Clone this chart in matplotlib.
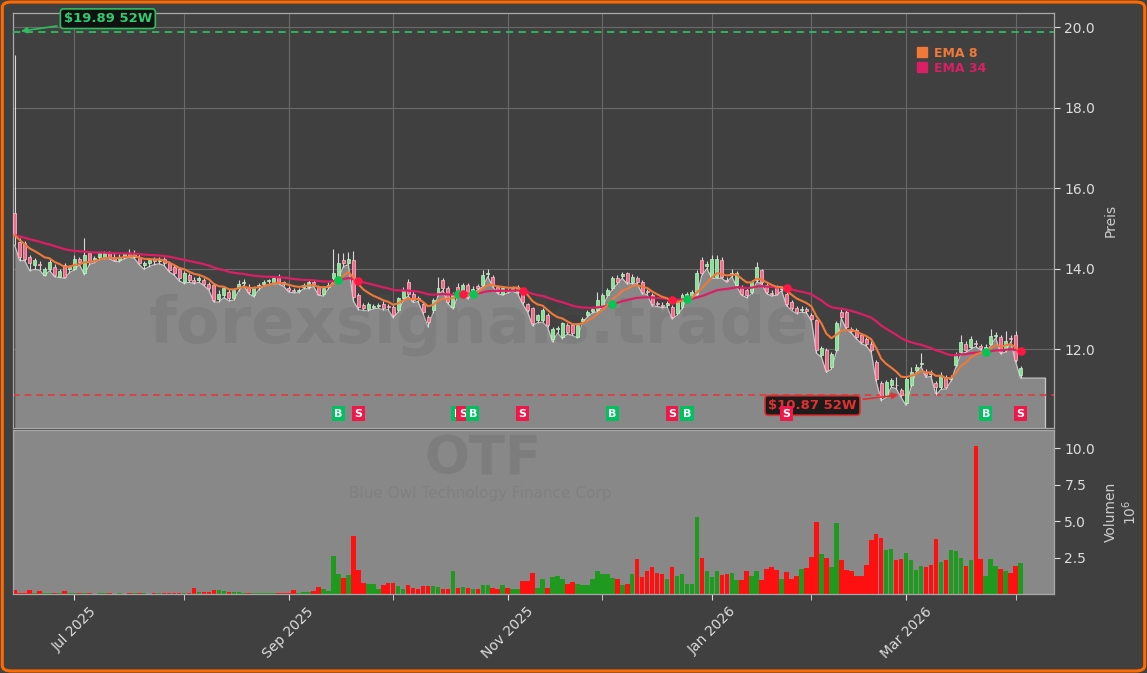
import numpy as np
import pandas as pd
import matplotlib
matplotlib.use('Agg')
import matplotlib.pyplot as plt
from matplotlib.patches import FancyBboxPatch
from matplotlib.lines import Line2D

# Trading days Jun 12 2025 - Apr 2 2026 (NYSE holidays removed)
holidays = ['2025-06-19', '2025-07-04', '2025-09-01', '2025-11-27',
            '2025-12-25', '2026-01-01', '2026-01-19', '2026-02-16']
dates = pd.bdate_range('2025-06-12', '2026-04-02', freq='C', holidays=holidays)

opens = [15.37, 14.67, 14.63, 14.29, 14.09, 14.12, 13.84, 14.00, 14.05, 13.80,
         14.09, 13.98, 14.00, 14.25, 13.88, 14.38, 14.22, 14.29, 14.30, 14.38,
         14.30, 14.22, 14.30, 14.38, 14.30, 14.30, 14.10, 14.13, 14.24, 14.18,
         14.25, 14.13, 14.05, 13.98, 13.67, 13.84, 13.72, 13.72, 13.71, 13.63,
         13.59, 13.24, 13.34, 13.42, 13.26, 13.51, 13.65, 13.55, 13.34, 13.56,
         13.63, 13.69, 13.67, 13.80, 13.66, 13.53, 13.47, 13.45, 13.55, 13.55,
         13.66, 13.55, 13.38, 13.55, 13.76, 13.80, 14.21, 14.15, 14.21, 13.34,
         13.09, 13.00, 13.05, 13.06, 13.13, 13.06, 13.05, 12.97, 13.26, 13.67,
         13.38, 13.27, 13.13, 12.80, 12.97, 13.38, 13.71, 13.51, 13.05, 13.55,
         13.42, 13.59, 13.42, 13.56, 13.59, 13.86, 13.80, 13.55, 13.38, 13.47,
         13.49, 13.42, 13.42, 13.11, 13.01, 12.72, 12.72, 12.84, 12.26, 12.49,
         12.31, 12.60, 12.60, 12.31, 12.70, 12.84, 12.95, 12.97, 13.09, 13.34,
         13.51, 13.76, 13.82, 13.88, 13.67, 13.76, 13.67, 13.44, 13.34, 13.14,
         13.10, 13.10, 13.05, 12.89, 13.05, 13.32, 13.34, 13.38, 14.21, 14.07,
         13.80, 13.80, 14.21, 13.73, 13.86, 13.59, 13.55, 13.47, 13.42, 13.71,
         13.96, 13.59, 13.40, 13.55, 13.49, 13.38, 13.18, 13.01, 12.97, 12.99,
         12.84, 12.72, 11.85, 11.97, 11.56, 11.97, 12.93, 12.93, 12.49, 12.47,
         12.35, 12.26, 12.14, 11.69, 11.15, 10.86, 11.11, 11.12, 10.98, 10.65,
         11.11, 11.48, 11.62, 11.44, 11.42, 11.15, 11.06, 11.31, 11.25, 11.60,
         11.93, 12.14, 12.06, 12.16, 12.08, 11.93, 12.14, 12.33, 12.31, 11.98,
         12.28, 12.35, 11.35]
highs = [19.30, 14.75, 14.68, 14.33, 14.27, 14.20, 14.05, 14.25, 14.12, 14.00,
         14.15, 14.10, 14.35, 14.30, 14.75, 14.42, 14.32, 14.42, 14.45, 14.45,
         14.38, 14.36, 14.40, 14.50, 14.46, 14.36, 14.20, 14.27, 14.28, 14.28,
         14.30, 14.18, 14.10, 14.02, 13.95, 13.90, 13.80, 13.82, 13.76, 13.68,
         13.65, 13.48, 13.58, 13.50, 13.52, 13.72, 13.75, 13.62, 13.56, 13.65,
         13.72, 13.74, 13.82, 13.86, 13.70, 13.58, 13.52, 13.53, 13.65, 13.72,
         13.71, 13.60, 13.56, 13.66, 14.50, 14.38, 14.40, 14.42, 14.45, 13.40,
         13.14, 13.16, 13.13, 13.14, 13.20, 13.12, 13.10, 13.30, 13.55, 13.74,
         13.44, 13.32, 13.18, 12.86, 13.28, 13.80, 13.76, 13.56, 13.42, 13.65,
         13.65, 13.64, 13.56, 13.62, 13.96, 13.98, 13.85, 13.60, 13.57, 13.52,
         13.58, 13.60, 13.48, 13.15, 13.05, 12.88, 13.02, 12.90, 12.56, 12.58,
         12.68, 12.65, 12.64, 12.65, 12.80, 12.98, 13.04, 13.43, 13.40, 13.52,
         13.82, 13.85, 13.92, 13.92, 13.86, 13.82, 13.72, 13.50, 13.40, 13.20,
         13.16, 13.20, 13.10, 13.24, 13.40, 13.42, 13.48, 13.96, 14.30, 14.18,
         14.33, 14.35, 14.28, 13.78, 13.98, 13.94, 13.60, 13.52, 13.72, 14.17,
         14.00, 13.64, 13.46, 13.60, 13.58, 13.44, 13.22, 13.06, 13.06, 13.04,
         12.90, 12.76, 12.08, 12.02, 11.94, 12.70, 12.99, 12.98, 12.54, 12.52,
         12.40, 12.30, 12.19, 11.74, 11.20, 11.24, 11.28, 11.30, 11.04, 11.32,
         11.55, 11.62, 11.90, 11.50, 11.47, 11.20, 11.42, 11.36, 11.35, 11.92,
         12.35, 12.20, 12.32, 12.22, 12.14, 12.12, 12.50, 12.42, 12.36, 12.45,
         12.34, 12.45, 11.58]
lows = [14.58, 14.20, 14.20, 13.95, 13.98, 13.96, 13.82, 13.95, 13.80, 13.78,
        13.76, 13.90, 13.97, 14.10, 13.85, 14.10, 14.15, 14.22, 14.25, 14.25,
        14.18, 14.17, 14.25, 14.28, 14.26, 14.10, 13.98, 14.05, 14.10, 14.12,
        14.08, 13.92, 13.84, 13.70, 13.63, 13.66, 13.63, 13.66, 13.58, 13.46,
        13.17, 13.17, 13.28, 13.20, 13.22, 13.45, 13.58, 13.38, 13.30, 13.48,
        13.56, 13.60, 13.62, 13.62, 13.56, 13.42, 13.40, 13.40, 13.50, 13.50,
        13.56, 13.34, 13.32, 13.50, 13.70, 13.75, 14.05, 14.10, 13.20, 12.98,
        12.96, 12.95, 13.00, 13.02, 12.97, 12.98, 12.78, 12.92, 13.20, 13.32,
        13.16, 13.18, 12.88, 12.55, 12.90, 13.33, 13.46, 13.13, 13.00, 13.32,
        13.38, 13.25, 13.36, 13.48, 13.55, 13.80, 13.55, 13.38, 13.34, 13.40,
        13.44, 13.38, 13.12, 12.92, 12.58, 12.66, 12.67, 12.55, 12.18, 12.40,
        12.26, 12.38, 12.34, 12.28, 12.65, 12.80, 12.90, 12.93, 13.05, 13.30,
        13.48, 13.62, 13.76, 13.62, 13.63, 13.62, 13.38, 13.36, 13.08, 13.06,
        13.03, 13.05, 12.75, 12.84, 13.00, 13.28, 13.30, 13.34, 13.84, 14.00,
        13.76, 13.76, 13.76, 13.66, 13.80, 13.55, 13.34, 13.28, 13.38, 13.67,
        13.62, 13.38, 13.32, 13.34, 13.45, 13.08, 12.96, 12.88, 12.92, 12.90,
        12.70, 11.90, 11.80, 11.42, 11.50, 11.93, 12.76, 12.50, 12.40, 12.26,
        12.14, 12.08, 11.92, 11.20, 10.72, 10.80, 11.05, 11.02, 10.80, 10.60,
        11.06, 11.42, 11.56, 11.30, 11.32, 10.86, 11.00, 11.01, 11.20, 11.55,
        11.88, 11.92, 12.00, 12.06, 11.98, 11.88, 12.10, 12.28, 11.88, 11.93,
        12.18, 11.68, 11.28]
closes = [14.83, 14.29, 14.25, 14.13, 14.21, 14.10, 14.00, 14.17, 13.84, 13.94,
          13.80, 14.05, 14.25, 14.17, 14.33, 14.17, 14.26, 14.38, 14.38, 14.30,
          14.22, 14.30, 14.36, 14.32, 14.40, 14.13, 14.13, 14.22, 14.20, 14.22,
          14.13, 13.96, 13.88, 13.76, 13.88, 13.71, 13.68, 13.76, 13.63, 13.51,
          13.22, 13.36, 13.51, 13.26, 13.47, 13.63, 13.68, 13.42, 13.51, 13.60,
          13.67, 13.70, 13.76, 13.67, 13.62, 13.47, 13.45, 13.48, 13.59, 13.67,
          13.62, 13.38, 13.51, 13.60, 13.88, 14.13, 14.13, 14.25, 13.30, 13.05,
          13.01, 13.11, 13.07, 13.09, 13.01, 13.04, 12.84, 13.26, 13.47, 13.38,
          13.22, 13.25, 12.93, 12.68, 13.22, 13.51, 13.51, 13.18, 13.38, 13.38,
          13.59, 13.30, 13.50, 13.52, 13.84, 13.90, 13.59, 13.43, 13.51, 13.45,
          13.53, 13.55, 13.18, 12.97, 12.64, 12.84, 12.97, 12.60, 12.51, 12.53,
          12.64, 12.43, 12.39, 12.60, 12.74, 12.93, 12.99, 13.22, 13.34, 13.47,
          13.76, 13.67, 13.86, 13.67, 13.80, 13.67, 13.42, 13.41, 13.13, 13.12,
          13.08, 13.14, 12.80, 13.18, 13.34, 13.36, 13.42, 13.88, 13.88, 14.11,
          14.25, 14.25, 13.80, 13.70, 13.90, 13.88, 13.38, 13.34, 13.67, 14.05,
          13.67, 13.42, 13.37, 13.38, 13.53, 13.13, 13.01, 12.93, 13.00, 12.95,
          12.76, 11.97, 12.02, 11.48, 11.89, 12.64, 12.80, 12.55, 12.45, 12.31,
          12.18, 12.14, 11.97, 11.27, 10.82, 11.19, 11.23, 11.10, 10.86, 11.27,
          11.44, 11.56, 11.66, 11.35, 11.38, 11.06, 11.35, 11.06, 11.29, 11.85,
          12.18, 11.97, 12.26, 12.12, 12.04, 12.06, 12.32, 12.36, 11.93, 12.20,
          12.24, 11.73, 11.52]
# volume in millions of shares
volumes = [0.30, 0.10, 0.10, 0.28, 0.05, 0.20, 0.06, 0.08, 0.05, 0.06,
           0.20, 0.05, 0.06, 0.04, 0.05, 0.04, 0.03, 0.05, 0.08, 0.04,
           0.03, 0.05, 0.03, 0.04, 0.08, 0.04, 0.06, 0.03, 0.05, 0.06,
           0.08, 0.06, 0.05, 0.07, 0.06, 0.08, 0.40, 0.15, 0.12, 0.15,
           0.25, 0.25, 0.20, 0.15, 0.15, 0.12, 0.10, 0.05, 0.04, 0.06,
           0.08, 0.05, 0.08, 0.08, 0.06, 0.08, 0.30, 0.10, 0.12, 0.12,
           0.20, 0.45, 0.35, 0.20, 2.60, 1.40, 1.10, 1.30, 3.96, 1.63,
           0.77, 0.72, 0.72, 0.35, 0.65, 0.77, 0.77, 0.58, 0.35, 0.65,
           0.42, 0.35, 0.54, 0.58, 0.54, 0.49, 0.31, 0.31, 1.60, 0.42,
           0.49, 0.38, 0.35, 0.31, 0.65, 0.65, 0.38, 0.35, 0.60, 0.38,
           0.31, 0.31, 0.92, 0.92, 1.45, 0.38, 1.06, 0.40, 1.20, 1.26,
           1.00, 0.72, 0.83, 0.70, 0.65, 0.60, 1.00, 1.60, 1.40, 1.40,
           1.10, 1.00, 0.65, 0.72, 1.40, 2.43, 1.15, 1.56, 1.86, 1.45,
           1.40, 1.04, 1.86, 1.27, 1.40, 0.72, 0.72, 5.29, 2.47, 1.60,
           1.18, 1.60, 1.29, 1.38, 1.45, 0.95, 0.99, 1.60, 1.22, 1.60,
           0.99, 1.75, 1.86, 1.68, 1.06, 1.52, 1.04, 1.27, 1.75, 1.79,
           2.55, 4.92, 2.77, 2.47, 1.86, 4.87, 2.36, 1.68, 1.56, 1.27,
           1.27, 1.97, 3.73, 4.14, 3.84, 3.05, 3.09, 2.36, 2.43, 2.82,
           2.36, 1.68, 1.95, 1.86, 1.97, 3.78, 2.20, 2.36, 3.05, 2.93,
           2.47, 1.95, 2.32, 10.20, 2.43, 1.22, 2.43, 1.95, 1.75, 1.60,
           1.45, 1.90, 2.13]

buy_signals = [65, 89, 92, 120, 135, 195]
sell_signals = [69, 90, 102, 132, 155, 202]
high_52w = 19.89
low_52w = 10.87

BG = '#404040'
FILL = '#888888'
UP_BODY, UP_EDGE = '#86e391', '#c8f5cc'
DN_BODY, DN_EDGE = '#f7688a', '#ffc0cc'
EMA8_C, EMA34_C = '#f07838', '#dc1e64'


def draw_chart():
    o = np.array(opens); h = np.array(highs); l = np.array(lows); c = np.array(closes)
    v = np.array(volumes)
    x = np.arange(len(c))
    up = c >= o
    ema8 = pd.Series(c).ewm(span=8, adjust=False).mean().values
    ema34 = pd.Series(c).ewm(span=34, adjust=False).mean().values

    fig = plt.figure(figsize=(11.47, 6.73), dpi=100, facecolor=BG)
    ax = fig.add_axes([0.0111, 0.3640, 0.9078, 0.6166], facecolor=BG)
    axv = fig.add_axes([0.0111, 0.1174, 0.9078, 0.2437], facecolor=FILL, sharex=ax)

    ymin, ymax = 10.04, 20.35
    ax.set_ylim(ymin, ymax)
    ax.set_xlim(-0.4, 208.7)

    # grey area under the lows, stretched a little past the last bar
    fx = np.append(x, x[-1] + 5)
    fl = np.append(l, l[-1])
    ax.fill_between(fx, fl, ymin, color=FILL, lw=0, zorder=1)
    ax.plot(np.append(fx, fx[-1]), np.append(fl, ymin), color='#c8c8c8', lw=0.9, zorder=1.2)

    ax.text(0.448, 0.25, 'forexsignals.trade', transform=ax.transAxes, ha='center', va='center',
            fontsize=46, fontweight='bold', color='#555555', alpha=0.17, zorder=1.5)

    # candles
    ax.vlines(x, l, h, color='#d8d8d8', lw=0.8, zorder=2.5)
    body_bot = np.minimum(o, c)
    body_h = np.maximum(np.abs(c - o), 0.02)
    ax.bar(x[up], body_h[up], bottom=body_bot[up], width=0.6, color=UP_BODY,
           edgecolor=UP_EDGE, lw=0.5, zorder=3)
    ax.bar(x[~up], body_h[~up], bottom=body_bot[~up], width=0.6, color=DN_BODY,
           edgecolor=DN_EDGE, lw=0.5, zorder=3)

    ax.plot(x, ema34, color=EMA34_C, lw=1.6, zorder=4)
    ax.plot(x, ema8, color=EMA8_C, lw=1.5, zorder=4.1)

    # crossover dots + B/S boxes
    ax.scatter(buy_signals, ema34[buy_signals], s=38, color='#00c853', zorder=5, lw=0)
    ax.scatter(sell_signals, ema34[sell_signals], s=38, color='#ff1744', zorder=5, lw=0)
    signals = sorted([(i, 'B') for i in buy_signals] + [(i, 'S') for i in sell_signals])
    for i, s in signals:
        fc = '#00c060' if s == 'B' else '#f01848'
        ax.text(i, 10.39, s, ha='center', va='center', fontsize=8, fontweight='bold', color='white',
                zorder=8, bbox=dict(boxstyle='square,pad=0.22', fc=fc, ec='none'))

    # 52 week lines
    ax.axhline(high_52w, color='#2ebd5f', lw=1.3, ls=(0, (4, 3)), zorder=4)
    ax.axhline(low_52w, color='#e03a3a', lw=1.2, ls=(0, (4, 3)), zorder=1.3)
    ax.annotate(f'${high_52w:.2f} 52W', xy=(0.7, high_52w), xytext=(18.7, 20.21),
                ha='center', va='center', fontsize=9.5, fontweight='bold', color='#2ecc71',
                bbox=dict(boxstyle='round,pad=0.25', fc='#111111', ec='#2ebd5f', lw=1.2),
                arrowprops=dict(arrowstyle='-|>', color='#2ebd5f', lw=1.2, mutation_scale=9),
                zorder=7)
    ax.annotate(f'${low_52w:.2f} 52W', xy=(178, low_52w), xytext=(160.2, 10.60),
                ha='center', va='center', fontsize=9.5, fontweight='bold', color='#e03030',
                bbox=dict(boxstyle='round,pad=0.25', fc='#1c1c1c', ec='#e03030', lw=1.2),
                arrowprops=dict(arrowstyle='-|>', color='#e03030', lw=1.2, mutation_scale=9),
                zorder=7)

    legend_handles = [Line2D([], [], ls='', marker='s', ms=7, color=EMA8_C),
                      Line2D([], [], ls='', marker='s', ms=7, color=EMA34_C)]
    leg = ax.legend(legend_handles, ['EMA 8', 'EMA 34'], loc='upper left',
                    bbox_to_anchor=(0.86, 0.94), frameon=False, handlelength=0.8,
                    handletextpad=0.6, labelspacing=0.15, borderpad=0.2,
                    prop={'weight': 'bold', 'size': 9})
    for t, col in zip(leg.get_texts(), [EMA8_C, EMA34_C]):
        t.set_color(col)

    # volume
    vcol = np.where(up, '#1f9a1f', '#ff1010')
    axv.bar(x, v, width=0.92, color=vcol, zorder=2)
    axv.set_ylim(0, 11.27)
    axv.set_yticks([2.5, 5.0, 7.5, 10.0])
    axv.set_yticklabels(['2.5', '5.0', '7.5', '10.0'])
    axv.text(0.451, 0.82, 'OTF', transform=axv.transAxes, ha='center', va='center',
             fontsize=38, fontweight='bold', color='black', alpha=0.08, zorder=1)
    axv.text(0.449, 0.615, 'Blue Owl Technology Finance Corp', transform=axv.transAxes,
             ha='center', va='center', fontsize=11, color='black', alpha=0.06, zorder=1)

    # axes styling
    ax.set_yticks([12, 14, 16, 18, 20])
    ax.set_yticklabels(['12.0', '14.0', '16.0', '18.0', '20.0'])
    month_idx = [i for i in range(1, len(dates)) if dates[i].month != dates[i - 1].month]
    major = month_idx[::2]
    minor = month_idx[1::2]
    ax.set_xticks(major)
    ax.set_xticks(minor, minor=True)
    axv.set_xticklabels([dates[i].strftime('%b %Y') for i in major])
    ax.grid(True, which='both', color='#6a6a6a', lw=0.8, zorder=0)
    ax.set_axisbelow(True)

    for a in (ax, axv):
        for sp in a.spines.values():
            sp.set_color('#a8a8a8')
            sp.set_linewidth(0.9)
        a.yaxis.tick_right()
        a.yaxis.set_label_position('right')
        a.tick_params(axis='y', colors='#dddddd', labelsize=10, length=4)
        a.tick_params(axis='x', which='both', colors='#dddddd', labelsize=10, length=4)
    ax.tick_params(axis='x', which='both', labelbottom=False, length=0)
    plt.setp(axv.get_xticklabels(), rotation=45, ha='center')

    ax.set_ylabel('Preis', color='#cccccc', fontsize=10, labelpad=6)
    axv.set_ylabel('Volumen\n$10^6$', color='#cccccc', fontsize=10, labelpad=6)

    fig.patches.append(FancyBboxPatch((0.002, 0.003), 0.996, 0.994,
                                      boxstyle='round,pad=0,rounding_size=0.008',
                                      transform=fig.transFigure, fill=False,
                                      ec='#ff6a00', lw=2.2))

    fig.savefig('out.png', dpi=100, facecolor=BG)


if __name__ == "__main__":
    draw_chart()
